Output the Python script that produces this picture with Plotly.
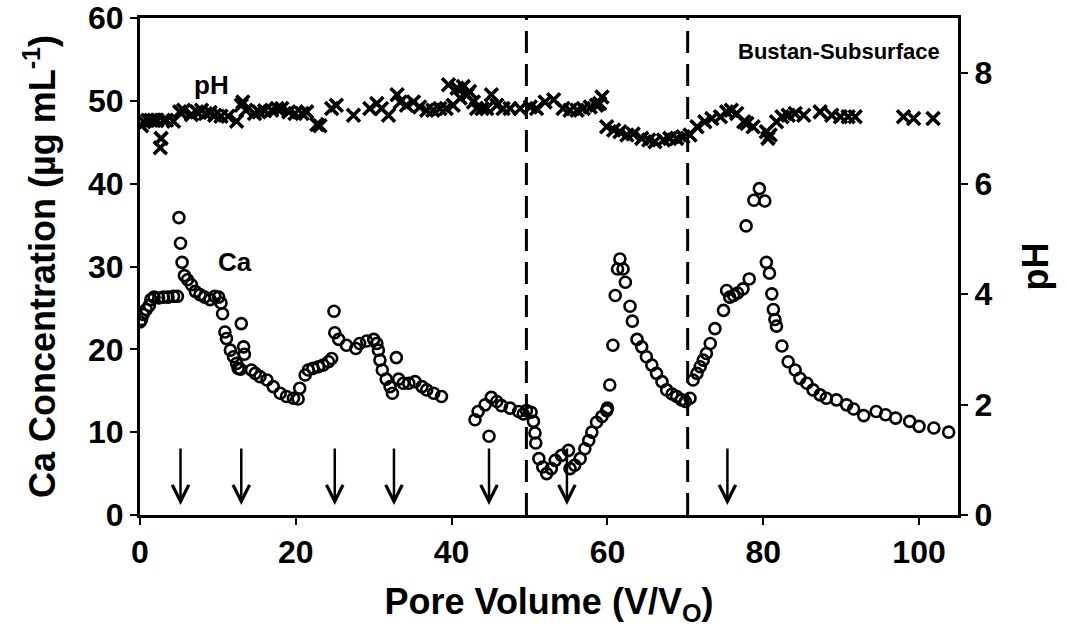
import plotly.graph_objects as go

# ---- data ----
ca_pv = [0.0, 0.2, 0.4, 0.8, 1.2, 1.4, 1.8, 2.4, 3.0, 3.6, 4.3, 4.8, 5.0, 5.2, 5.4, 5.7, 6.1, 6.6, 7.1, 7.7,
         8.3, 9.0, 9.6, 10.1, 10.4, 10.6, 10.9, 11.1, 11.6, 12.0, 12.4, 12.6, 12.9, 13.0, 13.3, 13.4, 14.3, 14.8,
         15.4, 16.3, 17.1, 18.0, 18.8, 19.7, 20.3, 20.5, 21.2, 21.6, 22.2, 22.9, 23.5, 24.2, 24.6, 24.9, 25.0,
         25.5, 26.5, 27.7, 28.2, 29.1, 30.0, 30.4, 30.6, 30.8, 31.1, 31.6, 32.1, 32.4, 32.9, 33.2, 33.8, 34.5,
         35.3, 36.2, 36.8, 37.7, 38.7,
         43.0, 43.4, 44.3, 44.8, 45.1, 45.8, 46.4, 47.5, 48.6, 49.2, 49.6, 50.2, 50.5, 50.7, 50.8, 51.2, 51.7,
         52.2, 52.8, 53.3, 54.1, 55.0, 55.2, 55.8, 56.5, 57.1, 57.6, 58.0, 58.6, 59.3, 59.9, 60.0, 60.3, 60.7,
         61.0, 61.3, 61.6, 62.0, 62.3, 62.9, 63.2, 63.8, 64.4, 65.0, 65.7, 66.3, 67.0, 67.6, 68.3, 68.9, 69.5,
         70.0, 70.6, 71.0, 71.5, 71.9, 72.3, 72.7, 73.2, 73.8, 74.9, 75.3, 75.7, 76.2, 76.7, 77.4, 77.8, 78.2,
         78.8, 79.5, 80.2, 80.4, 80.8, 81.1, 81.3, 81.5, 81.7, 82.4, 83.2, 84.1, 84.7, 85.6, 86.4, 87.3, 88.1,
         89.4, 90.7, 91.6, 92.9, 94.5, 95.7, 97.0, 98.8, 100.0, 101.9, 103.8]
ca_conc = [23.3, 23.6, 24.2, 24.8, 25.3, 26.0, 26.3, 26.2, 26.3, 26.3, 26.4, 26.4, 35.9, 32.8, 30.5, 28.9, 28.4,
           27.8, 27.0, 26.6, 26.3, 26.0, 26.4, 26.3, 25.6, 24.3, 22.1, 21.3, 19.9, 19.1, 18.3, 17.7, 17.6, 23.1,
           20.3, 19.4, 17.5, 17.1, 16.7, 16.3, 15.5, 14.7, 14.3, 14.1, 14.0, 15.3, 16.9, 17.5, 17.7, 17.9, 18.1,
           18.5, 18.9, 24.6, 22.0, 21.2, 20.5, 20.1, 20.7, 21.0, 21.2, 20.7, 19.9, 18.7, 17.5, 16.4, 15.5, 14.7,
           19.0, 16.4, 15.9, 15.9, 16.1, 15.5, 15.1, 14.7, 14.3,
           11.5, 12.5, 13.3, 9.5, 14.2, 13.7, 13.2, 12.9, 12.5, 12.2, 12.6, 12.4, 11.3, 9.9, 8.7, 6.8, 5.8,
           5.0, 5.6, 6.6, 7.2, 7.8, 5.6, 6.0, 6.8, 8.0, 9.0, 10.0, 11.2, 11.9, 12.6, 12.9, 15.7, 20.5,
           26.5, 29.7, 30.9, 29.7, 28.1, 25.2, 23.4, 21.2, 20.3, 19.1, 18.1, 17.1, 16.1, 15.1, 14.6, 14.3, 13.9,
           13.7, 14.1, 16.3, 17.1, 17.9, 18.7, 19.5, 20.7, 22.5, 24.7, 27.1, 26.3, 26.5, 26.8, 27.3, 34.9, 28.5,
           38.0, 39.4, 37.9, 30.5, 29.2, 26.7, 24.8, 23.6, 22.8, 20.4, 18.5, 17.5, 16.5, 15.9, 15.1, 14.5, 14.1,
           13.9, 13.3, 12.8, 12.0, 12.5, 12.1, 11.7, 11.3, 10.7, 10.5, 10.0]

ph_pv = [0.2, 0.5, 1.0, 1.4, 1.8, 2.2, 2.6, 2.7, 3.0, 3.4, 4.3, 5.1, 5.6, 6.6, 7.3, 7.9, 8.4, 9.0, 9.6, 10.4,
         11.3, 12.4, 13.0, 13.2, 13.6, 14.7, 15.3, 16.0, 16.9, 17.6, 18.2, 19.1, 19.9, 20.8, 21.4, 22.7, 23.1,
         24.6, 25.2, 27.4, 29.5, 30.4, 31.0, 31.9, 33.0, 33.4, 34.2, 35.1, 35.9, 36.8, 37.6, 38.5, 39.3, 39.6,
         40.2, 40.7, 41.1, 41.5, 42.0, 42.3, 42.8, 43.2, 43.9, 44.5, 45.1, 45.8, 46.6, 47.5, 48.8, 50.1, 50.9,
         52.0, 53.1, 54.3, 55.2, 56.1, 56.9, 57.8, 58.6, 59.0, 59.3, 59.9, 60.8, 61.6, 62.5, 63.3, 64.4, 65.3,
         66.1, 67.2, 68.0, 68.9, 69.7, 70.6, 71.5, 72.5, 73.4, 74.5, 75.3, 75.9, 76.6, 77.5, 77.9, 78.7, 80.4,
         80.6, 80.9, 81.7, 82.4, 83.2, 84.1, 85.2, 87.3, 88.8, 89.9, 90.9, 91.8, 98.0, 99.3, 101.8]
ph_val = [7.05, 7.12, 7.15, 7.15, 7.15, 7.15, 6.65, 6.82, 7.15, 7.15, 7.13, 7.30, 7.33, 7.25, 7.30, 7.33, 7.27,
          7.29, 7.24, 7.22, 7.22, 7.13, 7.42, 7.48, 7.33, 7.27, 7.30, 7.32, 7.33, 7.36, 7.36, 7.30, 7.27, 7.27,
          7.30, 7.07, 7.05, 7.36, 7.42, 7.24, 7.36, 7.45, 7.36, 7.24, 7.61, 7.48, 7.42, 7.48, 7.39, 7.33, 7.33,
          7.36, 7.36, 7.79, 7.42, 7.73, 7.55, 7.76, 7.61, 7.67, 7.48, 7.36, 7.36, 7.36, 7.61, 7.42, 7.36, 7.36,
          7.36, 7.39, 7.36, 7.48, 7.52, 7.36, 7.33, 7.33, 7.36, 7.39, 7.42, 7.45, 7.57, 7.03, 6.97, 6.94, 6.88,
          6.90, 6.82, 6.79, 6.76, 6.79, 6.82, 6.82, 6.85, 6.88, 7.03, 7.12, 7.18, 7.21, 7.30, 7.33, 7.27, 7.12,
          7.09, 7.03, 6.94, 6.82, 6.88, 7.12, 7.21, 7.24, 7.27, 7.24, 7.30, 7.24, 7.21, 7.21, 7.21, 7.21, 7.18,
          7.18]

arrow_pv = [5.2, 13.0, 25.0, 32.6, 44.8, 54.8, 75.4]
arrow_top = 8.2
arrow_tip = 1.2
boundary_pv = [49.6, 70.3]

FONT = "Liberation Sans"

fig = go.Figure()
fig.add_trace(go.Scatter(
    x=ca_pv, y=ca_conc, mode="markers", name="Ca",
    marker=dict(symbol="circle-open", size=11, color="black", line=dict(width=2.6)),
))
fig.add_trace(go.Scatter(
    x=ph_pv, y=ph_val, mode="markers", name="pH", yaxis="y2",
    marker=dict(symbol="x-thin-open", size=13, color="black", line=dict(width=3.6)),
))

for xv in boundary_pv:
    fig.add_shape(type="line", x0=xv, x1=xv, y0=0, y1=60, xref="x", yref="y",
                  line=dict(color="black", width=3, dash="22px,11px"))

for xv in arrow_pv:
    fig.add_annotation(x=xv, y=arrow_tip, ax=xv, ay=arrow_top, xref="x", yref="y",
                       axref="x", ayref="y", text="", showarrow=True,
                       arrowhead=5, arrowsize=1.3, arrowwidth=2.5, arrowcolor="black")

fig.add_annotation(x=9.2, y=51.9, xref="x", yref="y", text="<b>pH</b>", showarrow=False,
                   font=dict(family=FONT, size=26, color="black"))
fig.add_annotation(x=12.2, y=30.6, xref="x", yref="y", text="<b>Ca</b>", showarrow=False,
                   font=dict(family=FONT, size=26, color="black"))
fig.add_annotation(x=102.9, y=56.0, xref="x", yref="y", text="<b>Bustan-Subsurface</b>",
                   showarrow=False, xanchor="right",
                   font=dict(family=FONT, size=22, color="black"))

axis_font = dict(family=FONT, size=32, color="black")
title_font = dict(family=FONT, size=36, color="black")

fig.update_layout(
    width=1066, height=641,
    margin=dict(l=140, r=108, t=18, b=126, autoexpand=False),
    paper_bgcolor="white", plot_bgcolor="white",
    showlegend=False,
    font=dict(family=FONT, color="black"),
    xaxis=dict(
        range=[0, 105], tickvals=[0, 20, 40, 60, 80, 100],
        ticktext=["<b>0</b>", "<b>20</b>", "<b>40</b>", "<b>60</b>", "<b>80</b>", "<b>100</b>"],
        ticks="outside", ticklen=7, tickwidth=2, tickcolor="black",
        showline=True, linewidth=3, linecolor="black", mirror=True,
        showgrid=False, zeroline=False, tickfont=axis_font, automargin=False,
        title=dict(text="<b>Pore Volume (V/V<sub>O</sub>)</b>", font=title_font, standoff=20),
    ),
    yaxis=dict(
        range=[0, 60], tickvals=[0, 10, 20, 30, 40, 50, 60],
        ticktext=["<b>%d</b>" % v for v in [0, 10, 20, 30, 40, 50, 60]],
        ticks="outside", ticklen=7, tickwidth=2, tickcolor="black",
        showline=True, linewidth=3, linecolor="black",
        showgrid=False, zeroline=False, tickfont=axis_font, automargin=False,
        title=dict(text="<b>Ca Concentration (µg mL<sup>-1</sup>)</b>", font=title_font, standoff=22),
    ),
    yaxis2=dict(
        range=[0, 9], tickvals=[0, 2, 4, 6, 8],
        ticktext=["<b>%d</b>" % v for v in [0, 2, 4, 6, 8]],
        overlaying="y", side="right",
        ticks="outside", ticklen=7, tickwidth=2, tickcolor="black",
        showline=True, linewidth=3, linecolor="black",
        showgrid=False, zeroline=False, tickfont=axis_font, automargin=False,
        title=dict(text="<b>pH</b>", font=title_font, standoff=32),
    ),
)

fig.write_html("out.html")
